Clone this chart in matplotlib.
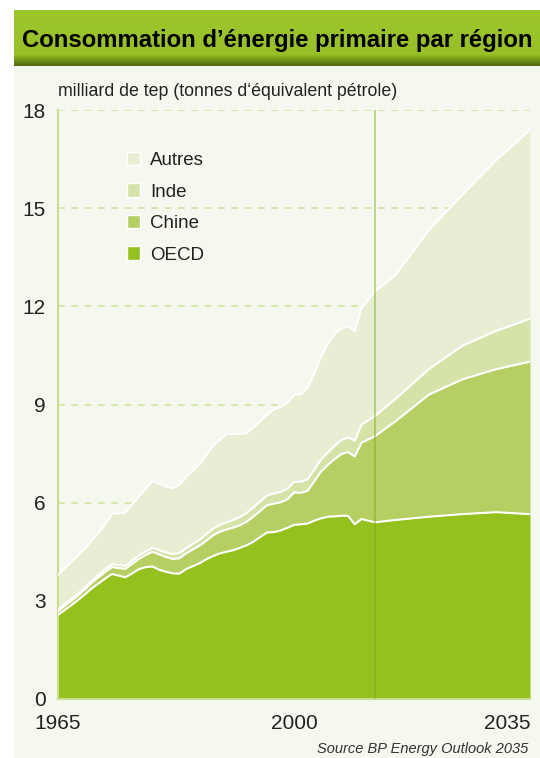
import numpy as np
import matplotlib.pyplot as plt
from matplotlib.patches import Patch, Rectangle

plt.rcParams['font.family'] = ['Liberation Sans', 'DejaVu Sans']

# Consommation d'énergie primaire (milliard de tep)
years = [1965, 1966, 1967, 1968, 1969, 1970, 1971, 1972, 1973, 1974,
         1975, 1976, 1977, 1978, 1979, 1980, 1981, 1982, 1983, 1984,
         1985, 1986, 1987, 1988, 1989, 1990, 1991, 1992, 1993, 1994,
         1995, 1996, 1997, 1998, 1999, 2000, 2001, 2002, 2003, 2004,
         2005, 2006, 2007, 2008, 2009, 2010, 2011, 2012,
         2015, 2020, 2025, 2030, 2035]
oecd = [2.57, 2.72, 2.87, 3.03, 3.20, 3.38, 3.53, 3.68, 3.82, 3.77,
        3.72, 3.84, 3.97, 4.03, 4.05, 3.95, 3.89, 3.84, 3.83, 3.97,
        4.06, 4.15, 4.27, 4.37, 4.45, 4.50, 4.55, 4.62, 4.70, 4.81,
        4.95, 5.09, 5.10, 5.15, 5.23, 5.32, 5.34, 5.36, 5.45, 5.52,
        5.57, 5.58, 5.60, 5.60, 5.34, 5.50, 5.45, 5.40,
        5.47, 5.57, 5.65, 5.71, 5.65]
chine = [0.11, 0.13, 0.13, 0.14, 0.15, 0.17, 0.19, 0.20, 0.21, 0.23,
         0.26, 0.29, 0.31, 0.37, 0.45, 0.47, 0.45, 0.44, 0.47, 0.48,
         0.51, 0.54, 0.57, 0.63, 0.66, 0.68, 0.69, 0.69, 0.72, 0.77,
         0.80, 0.83, 0.87, 0.86, 0.87, 0.99, 0.96, 1.00, 1.20, 1.43,
         1.58, 1.75, 1.88, 1.95, 2.07, 2.33, 2.48, 2.63,
         3.01, 3.73, 4.12, 4.37, 4.66]
inde = [0.05, 0.05, 0.06, 0.06, 0.06, 0.07, 0.07, 0.08, 0.09, 0.09,
        0.09, 0.10, 0.11, 0.11, 0.12, 0.13, 0.14, 0.15, 0.16, 0.16,
        0.17, 0.18, 0.20, 0.21, 0.21, 0.22, 0.23, 0.25, 0.27, 0.28,
        0.29, 0.30, 0.31, 0.32, 0.32, 0.32, 0.34, 0.35, 0.36, 0.37,
        0.38, 0.40, 0.43, 0.45, 0.48, 0.55, 0.59, 0.62,
        0.68, 0.78, 1.03, 1.17, 1.31]
autres = [1.06, 1.10, 1.14, 1.17, 1.19, 1.23, 1.29, 1.37, 1.55, 1.58,
          1.63, 1.72, 1.79, 1.91, 2.04, 2.03, 2.02, 2.01, 2.09, 2.17,
          2.24, 2.31, 2.42, 2.54, 2.60, 2.69, 2.63, 2.54, 2.44, 2.44,
          2.46, 2.46, 2.57, 2.60, 2.63, 2.66, 2.68, 2.79, 2.94, 3.13,
          3.32, 3.42, 3.42, 3.38, 3.36, 3.56, 3.68, 3.80,
          3.79, 4.25, 4.62, 5.22, 5.77]
last_history_year = 2012

labels = ['OECD', 'Chine', 'Inde', 'Autres']
colors = ['#95c11f', '#b5cf63', '#d5e3a8', '#e8eed4']
y_ticks = [0, 3, 6, 9, 12, 15, 18]
x_ticks = [1965, 2000, 2035]

W, H = 540, 758
fig = plt.figure(figsize=(W / 100, H / 100), dpi=100, facecolor='white')

# panneau clair + bandeau titre
fig.patches.append(Rectangle((14 / W, 0), 1, (H - 65) / H, transform=fig.transFigure,
                             facecolor='#f5f8ee', edgecolor='none', zorder=-5))
band = fig.add_axes([14 / W, 1 - 66 / H, 1 - 14 / W, 56 / H])
rows = []
for i in range(56):
    t = i / 55
    if t < 0.8:
        c = np.array([0.62, 0.78, 0.17]) * (1 - 0.05 * t)
    else:
        s = (t - 0.8) / 0.2
        c = np.array([0.59, 0.75, 0.13]) * (1 - 0.45 * s)
    rows.append(c)
band.imshow(np.array(rows)[:, None, :], aspect='auto', extent=[0, 1, 0, 1])
band.set_axis_off()
band.text(8 / 526, 0.45, 'Consommation d’énergie primaire par région',
          transform=band.transAxes, fontsize=17.2, fontweight='bold',
          color='black', va='center', ha='left')

ax = fig.add_axes([58 / W, 1 - 699 / H, 472 / W, 589 / H])
ax.set_zorder(3)
ax.set_facecolor('none')
ax.set_xlim(1965, 2035)
ax.set_ylim(0, 18)

yrs = np.array(years)
tops = np.cumsum(np.array([oecd, chine, inde, autres]), axis=0)
base = np.zeros(len(yrs))
for top, col in zip(tops, colors):
    ax.fill_between(yrs, base, top, color=col, lw=0, zorder=2)
    base = top
for top in tops:
    ax.plot(yrs, top, color='white', lw=1.5, zorder=3)

ax.axvline(last_history_year, color='#7fa81c', alpha=0.55, lw=1.2, zorder=4)

ax.set_yticks(y_ticks)
ax.set_yticklabels([str(v) for v in y_ticks])
ax.set_xticks(x_ticks)
ax.set_xticklabels([str(v) for v in x_ticks])
ax.xaxis.get_majorticklabels()[-1].set_horizontalalignment('right')
ax.tick_params(axis='both', length=0, labelsize=15, colors='#222222')
ax.tick_params(axis='y', pad=9)
ax.tick_params(axis='x', pad=11)
ax.yaxis.grid(True, linestyle=(0, (4, 4)), color='#d3e2a0', lw=1.2, zorder=1)
ax.set_axisbelow(True)
for side in ['top', 'right']:
    ax.spines[side].set_visible(False)
for side in ['left', 'bottom']:
    ax.spines[side].set_color('#c9dc8f')
    ax.spines[side].set_linewidth(1.5)

fig.text(58 / W, 1 - 92 / H, 'milliard de tep (tonnes d‘équivalent pétrole)',
         fontsize=12.8, color='#222222', va='center', ha='left')

handles = [Patch(facecolor=c, edgecolor='white', lw=1) for c in colors][::-1]
ax.legend(handles, labels[::-1], loc='upper left', bbox_to_anchor=(0.146, 0.929),
          frameon=False, fontsize=13.5, handlelength=0.72, handleheight=0.72,
          handletextpad=0.5, labelspacing=0.76, borderpad=0, borderaxespad=0,
          labelcolor='#222222')

fig.text(528 / W, 1 - 749 / H, 'Source BP Energy Outlook 2035', fontsize=10.5,
         style='italic', color='#333333', ha='right', va='center')

fig.savefig('out.png', dpi=100, facecolor='white')
